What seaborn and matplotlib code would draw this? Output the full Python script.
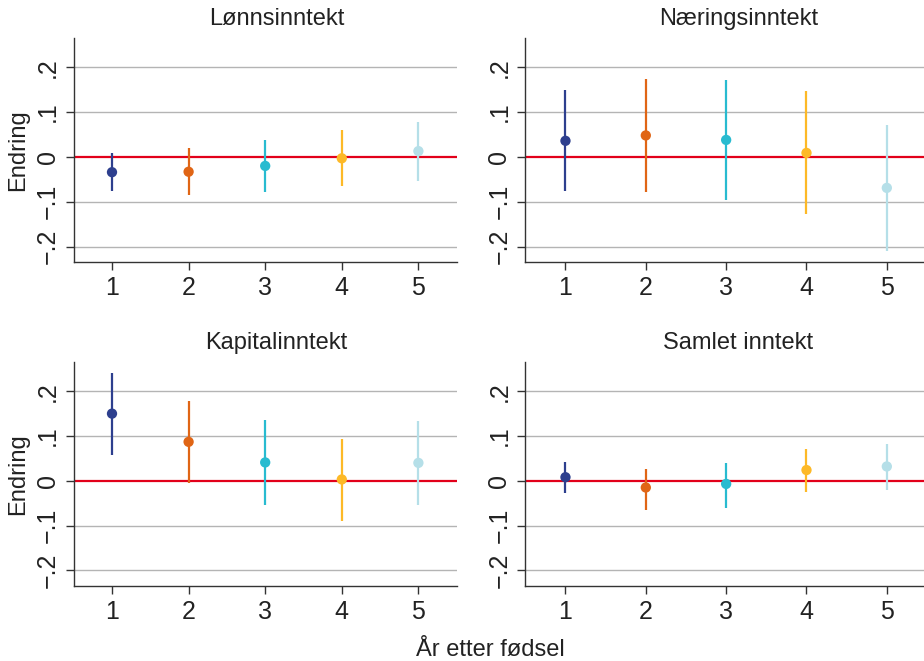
import matplotlib
matplotlib.use("Agg")
import matplotlib.pyplot as plt
import numpy as np
import pandas as pd
import seaborn as sns

# Values
years = [1, 2, 3, 4, 5]
panel_titles = ["Lønnsinntekt", "Næringsinntekt", "Kapitalinntekt", "Samlet inntekt"]

estimate = {
    "Lønnsinntekt": [-0.034, -0.033, -0.020, -0.003, 0.013],
    "Næringsinntekt": [0.036, 0.048, 0.038, 0.009, -0.069],
    "Kapitalinntekt": [0.150, 0.087, 0.041, 0.003, 0.040],
    "Samlet inntekt": [0.008, -0.015, -0.007, 0.024, 0.032],
}
ci_low = {
    "Lønnsinntekt": [-0.075, -0.085, -0.078, -0.065, -0.054],
    "Næringsinntekt": [-0.077, -0.078, -0.097, -0.127, -0.209],
    "Kapitalinntekt": [0.057, -0.006, -0.053, -0.089, -0.053],
    "Samlet inntekt": [-0.027, -0.065, -0.061, -0.025, -0.020],
}
ci_high = {
    "Lønnsinntekt": [0.008, 0.021, 0.038, 0.059, 0.079],
    "Næringsinntekt": [0.150, 0.173, 0.172, 0.146, 0.071],
    "Kapitalinntekt": [0.241, 0.178, 0.136, 0.094, 0.133],
    "Samlet inntekt": [0.043, 0.026, 0.039, 0.071, 0.082],
}

y_ticks = [-0.2, -0.1, 0, 0.1, 0.2]
y_tick_labels = ["\u2212.2", "\u2212.1", "0", ".1", ".2"]

year_colors = ["#2d3f8e", "#e06515", "#28bbd0", "#fdb927", "#b5dfe8"]

rows = []
for title in panel_titles:
    for i, year in enumerate(years):
        rows.append({
            "panel": title,
            "year": year,
            "estimate": estimate[title][i],
            "low": ci_low[title][i],
            "high": ci_high[title][i],
        })
df = pd.DataFrame(rows)

sns.set_theme(style="white")
plt.rcParams["font.family"] = ["Liberation Sans", "DejaVu Sans"]

W, H = 924, 661
fig = plt.figure(figsize=(W / 100, H / 100), dpi=100)
palette = dict(zip(years, year_colors))

# axes boxes in pixels: left, top, right, bottom
boxes = [
    (73.7, 37.7, 456.7, 262.3),
    (525.3, 37.7, 927.0, 262.3),
    (73.7, 361.7, 456.7, 586.0),
    (525.3, 361.7, 927.0, 586.0),
]

for idx, (title, (l, t, r, b)) in enumerate(zip(panel_titles, boxes)):
    ax = fig.add_axes([l / W, 1 - b / H, (r - l) / W, (b - t) / H])
    sub = df[df["panel"] == title]

    for y in [-0.2, -0.1, 0.1, 0.2]:
        ax.axhline(y, color="#b4b4b4", lw=1.0, zorder=0)
    ax.axhline(0, color="#e2001a", lw=1.6, zorder=1)

    ax.vlines(sub["year"], sub["low"], sub["high"],
              colors=[palette[y] for y in sub["year"]], lw=1.6, zorder=2)
    sns.scatterplot(data=sub, x="year", y="estimate", hue="year", palette=palette,
                    s=55, linewidth=0, legend=False, zorder=3, ax=ax)

    ax.set_xlim(0.5, 5.5)
    ax.set_ylim(-0.235, 0.266)
    ax.set_xticks(years)
    ax.set_xticklabels([str(y) for y in years], fontsize=18, color="#222222")
    ax.set_yticks(y_ticks)
    ax.set_yticklabels(y_tick_labels, fontsize=18, color="#222222",
                       rotation=90, va="center")
    ax.tick_params(axis="both", direction="out", length=6, width=1,
                   color="#333333", left=True, bottom=True)
    ax.tick_params(axis="y", pad=4)
    ax.tick_params(axis="x", pad=4)

    for side in ["top", "right"]:
        ax.spines[side].set_visible(False)
    for side in ["left", "bottom"]:
        ax.spines[side].set_color("#333333")
        ax.spines[side].set_linewidth(1.0)

    ax.set_xlabel("")
    if idx % 2 == 0:
        ax.set_ylabel("Endring", fontsize=17, color="#222222", labelpad=5)
    else:
        ax.set_ylabel("")
    ax.set_title(title, fontsize=17, color="#222222", x=0.53, pad=9)

fig.text(490 / W, 1 - 650 / H, "År etter fødsel", ha="center", va="center",
         fontsize=17, color="#222222")

fig.savefig("out.png", dpi=100)
